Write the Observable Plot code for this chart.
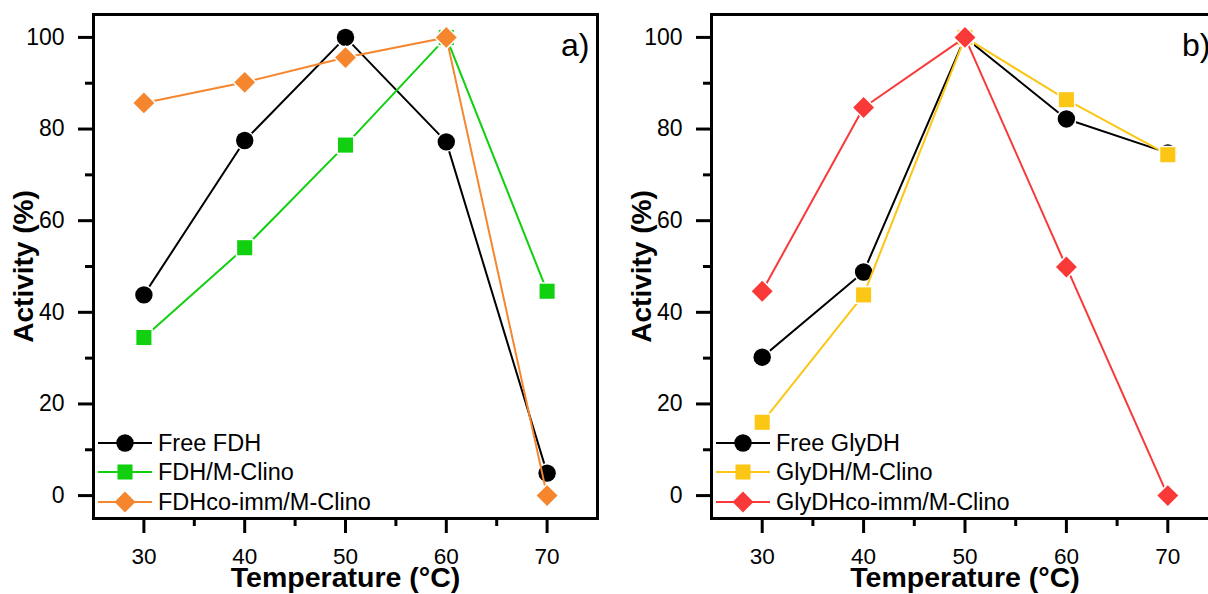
<!DOCTYPE html>
<html>
<head>
<meta charset="utf-8">
<script src="https://cdn.jsdelivr.net/npm/d3@7"></script>
<script src="https://cdn.jsdelivr.net/npm/@observablehq/plot@0.6"></script>
<style>
  html, body { margin: 0; padding: 0; background: #fff; overflow: hidden; }
  #wrap { display: flex; width: 1208px; height: 594px; overflow: hidden; }
  #wrap svg { flex: none; }
</style>
</head>
<body>
<div id="wrap"></div>
<script>
// ---------- data ----------
const temps = [30, 40, 50, 60, 70];

const labelsA = ["Free FDH", "FDH/M-Clino", "FDHco-imm/M-Clino"];
const freeFDH = [43.8, 77.5, 100, 77.2, 4.9];
const fdhMClino = [34.5, 54.1, 76.5, 100, 44.6];
const fdhCoImm = [85.7, 90.2, 95.6, 100, 0];

const labelsB = ["Free GlyDH", "GlyDH/M-Clino", "GlyDHco-imm/M-Clino"];
const freeGlyDH = [30.2, 48.8, 100, 82.2, 74.8];
const glyMClino = [16.0, 43.8, 100, 86.4, 74.4];
const glyCoImm = [44.6, 84.7, 100, 49.9, 0];

const majorX = [30, 40, 50, 60, 70];
const minorX = [35, 45, 55, 65];
const majorY = [0, 20, 40, 60, 80, 100];
const minorY = [10, 30, 50, 70, 90];

const xTitle = "Temperature (°C)";
const yTitle = "Activity (%)";

// ---------- style ----------
const FONT = "'Liberation Sans', Arial, Helvetica, sans-serif";
const colorsA = ["#000000", "#10d010", "#f5862e"];
const colorsB = ["#000000", "#fcc614", "#f93838"];
const symbols = ["circle", "square", "diamond2"];
const radii = [8.7, 8.5, 9.4];
const legendRows = [-75, -46, -16];

function table(vals) {
  return temps.map((t, i) => ({t, v: vals[i]}));
}

function legendMark(labels, colors) {
  return (index, scales, values, dim) => {
    const g = d3.create("svg:g");
    const left = dim.marginLeft;
    const bottom = dim.height - dim.marginBottom;
    labels.forEach((lab, i) => {
      const y = bottom + legendRows[i];
      g.append("line")
        .attr("x1", left + 5).attr("x2", left + 59)
        .attr("y1", y).attr("y2", y)
        .attr("stroke", colors[i]).attr("stroke-width", 2);
      const type = symbols[i] === "circle" ? d3.symbolCircle : symbols[i] === "square" ? d3.symbolSquare : d3.symbolDiamond2;
      g.append("path")
        .attr("d", d3.symbol(type, Math.PI * radii[i] * radii[i])())
        .attr("transform", `translate(${left + 32},${y})`)
        .attr("fill", colors[i]);
      g.append("text")
        .attr("x", left + 65).attr("y", y + 8)
        .attr("font-size", 23.5)
        .attr("font-family", FONT)
        .attr("text-anchor", "start")
        .attr("fill", "#000")
        .text(lab);
    });
    return g.node();
  };
}

function panel({series, labels, colors, tag, width, marginLeft, marginRight}) {
  const marks = [];
  series.forEach((vals, i) => {
    const d = table(vals);
    marks.push(Plot.line(d, {x: "t", y: "v", stroke: colors[i], strokeWidth: 2}));
    marks.push(Plot.dot(d, {
      x: "t", y: "v", symbol: () => symbols[i], r: radii[i],
      fill: colors[i], stroke: "#fff", strokeWidth: 3, paintOrder: "stroke"
    }));
  });
  return Plot.plot({
    width, height: 594,
    marginTop: 14, marginBottom: 76, marginLeft, marginRight,
    style: {fontFamily: FONT, background: "#fff", color: "#000", overflow: "visible"},
    x: {domain: [25, 75], label: null},
    y: {domain: [-5, 105], label: null},
    symbol: {type: "identity"},
    marks: [
      ...marks,
      Plot.frame({stroke: "#000", strokeWidth: 3}),
      Plot.axisY(majorY, {tickSize: 15, fill: "none", tickFormat: () => "", strokeWidth: 3, label: null}),
      Plot.axisY(minorY, {tickSize: 8, fill: "none", tickFormat: () => "", strokeWidth: 3, label: null}),
      Plot.axisX(majorX, {tickSize: 15, fill: "none", tickFormat: () => "", strokeWidth: 3, label: null}),
      Plot.axisX(minorX, {tickSize: 8, fill: "none", tickFormat: () => "", strokeWidth: 3, label: null}),
      Plot.text(majorY, {y: d => d, text: d => String(d), frameAnchor: "left", textAnchor: "end", dx: -29, fontSize: 23}),
      Plot.text(majorX, {x: d => d, text: d => String(d), frameAnchor: "bottom", lineAnchor: "top", dy: 30, fontSize: 22.5}),
      Plot.text([xTitle], {text: d => d, frameAnchor: "bottom", textAnchor: "middle", lineAnchor: "bottom", dy: 68, fontSize: 28.5, fontWeight: "bold"}),
      Plot.text([yTitle], {text: d => d, frameAnchor: "left", textAnchor: "middle", rotate: -90, dx: -69, fontSize: 28, fontWeight: "bold"}),
      Plot.text([tag], {text: d => d, frameAnchor: "top-right", textAnchor: "end", lineAnchor: "bottom", dx: -8, dy: 41, fontSize: 32}),
      legendMark(labels, colors)
    ]
  });
}

const wrap = document.getElementById("wrap");
wrap.append(panel({
  series: [freeFDH, fdhMClino, fdhCoImm], labels: labelsA, colors: colorsA, tag: "a)",
  width: 604, marginLeft: 93, marginRight: 7
}));
wrap.append(panel({
  series: [freeGlyDH, glyMClino, glyCoImm], labels: labelsB, colors: colorsB, tag: "b)",
  width: 614, marginLeft: 107, marginRight: 0
}));
</script>
</body>
</html>
